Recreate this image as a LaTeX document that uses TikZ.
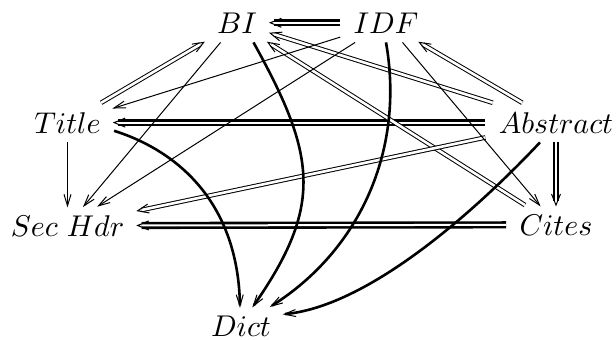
\documentclass[tikz,border=0pt]{standalone}
\DeclareFontShape{OML}{cmm}{m}{it}{<->cmmi10}{}
\usetikzlibrary{calc}
\tikzset{
  lbl/.style={inner xsep=6.5pt, inner ysep=4.5pt, anchor=base, font=\fontsize{15}{18}\selectfont},
  thinln/.style={line width=0.5pt},
  medln/.style={line width=0.85pt},
  thickln/.style={line width=1.3pt, shorten >=0.5pt},
  thindbl/.style={line width=0.5pt, double, double distance=1.3pt, shorten >=2pt},
  meddbl/.style={line width=0.85pt, double, double distance=1.3pt, shorten >=2pt},
  thickdbl/.style={line width=1.3pt, double, double distance=1pt, shorten >=2pt},
  tipln/.style={line width=0.5pt, line join=miter},
}
\newcommand\Vtip[3]{%
  \draw[tipln] ($(#1)!6pt!#3:(#2)$) -- (#1) -- ($(#1)!6pt!-#3:(#2)$);}
\newcommand\Edge[4]{%
  \path (#2) -- (#3) coordinate[pos=0] (s-#2-#3) coordinate[pos=1] (e-#2-#3);
  \draw[#1] (s-#2-#3) -- (e-#2-#3);
  \Vtip{e-#2-#3}{s-#2-#3}{#4}}
\begin{document}
\begin{tikzpicture}[x=0.5pt, y=-0.5pt]
\useasboundingbox (0,0) rectangle (616,339);
\node[lbl] (BI) at (237,33) {$BI$};
\node[lbl] (IDF) at (386,33) {$IDF$};
\node[lbl] (Title) at (67.5,133) {$Title$};
\node[lbl] (Abstract) at (556,133) {$Abstract$};
\node[lbl] (SecHdr) at (67.5,236) {$Sec\ Hdr$};
\node[lbl] (Cites) at (556,235) {$Cites$};
\node[lbl] (Dict) at (241,336) {$Dict$};
% double connectors
\Edge{thickdbl}{IDF}{BI}{22}
\Edge{thickdbl}{Abstract}{Title}{22}
\Edge{thickdbl}{Cites}{SecHdr}{22}
\Edge{meddbl}{Abstract}{Cites}{22}
\Edge{thindbl}{Title}{BI}{22}
\Edge{thindbl}{Abstract}{BI}{22}
\Edge{thindbl}{Cites}{BI}{22}
\Edge{thindbl}{Abstract}{IDF}{22}
\Edge{thindbl}{Abstract}{SecHdr}{22}
% single connectors
\Edge{thinln}{IDF}{Title}{17}
\Edge{thinln}{BI}{SecHdr}{17}
\Edge{thinln}{IDF}{SecHdr}{17}
\Edge{thinln}{IDF}{Cites}{17}
\Edge{medln}{Title}{SecHdr}{17}
% curves into Dict
\draw[thickln] (Title.-10) .. controls (175,150) and (238,200) .. (Dict.93);
\Vtip{Dict.93}{238,200}{17}
\draw[thickln] (BI.-50) .. controls (316,155) and (324,205) .. (Dict.58);
\Vtip{Dict.58}{324,205}{17}
\draw[thickln] (IDF.-90) .. controls (405,150) and (360,250) .. (Dict.33);
\Vtip{Dict.33}{360,250}{17}
\draw[thickln] (Abstract.-129) .. controls (500,185) and (380,305) .. (Dict.15);
\Vtip{Dict.15}{380,305}{17}
\end{tikzpicture}
\end{document}
